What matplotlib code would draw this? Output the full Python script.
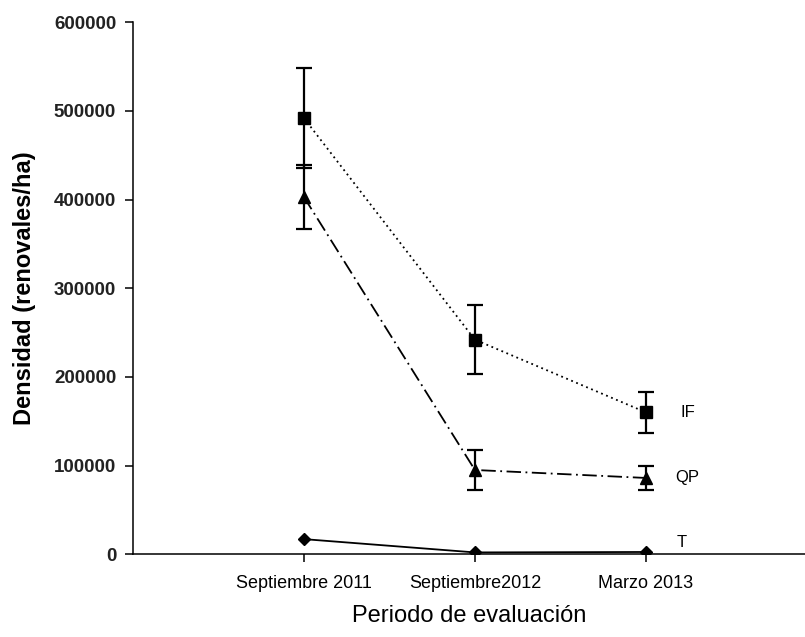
import matplotlib
matplotlib.use("Agg")
import matplotlib.pyplot as plt

periods = ["Septiembre 2011", "Septiembre2012", "Marzo 2013"]
xpos = [1, 2, 3]

if_mean = [492000, 242000, 160000]
if_err = [56000, 39000, 23000]

qp_mean = [403000, 95000, 86000]
qp_err = [36000, 23000, 14000]

t_mean = [17000, 2000, 2500]

series_names = ["IF", "QP", "T"]

plt.rcParams['font.family'] = ['Liberation Sans', 'DejaVu Sans']

fig = plt.figure(figsize=(8.05, 6.37), dpi=100)
ax = fig.add_axes([0.165, 0.130, 0.835, 0.835])

# IF - dotted, squares
ax.errorbar(xpos, if_mean, yerr=if_err, color='black', marker='s', markersize=9,
            linestyle=(0, (1, 2)), linewidth=1.3, elinewidth=1.6, capsize=6,
            capthick=1.6, zorder=3)
# QP - dash dot, triangles
ax.errorbar(xpos, qp_mean, yerr=qp_err, color='black', marker='^', markersize=8,
            linestyle=(0, (8, 2.5, 1, 2.5)), linewidth=1.3, elinewidth=1.6,
            capsize=6, capthick=1.6, zorder=3)
# T - solid, diamonds
ax.plot(xpos, t_mean, color='black', marker='D', markersize=6, linewidth=1.3,
        zorder=3)

# series labels at right end
ax.text(3.2, if_mean[2], series_names[0], fontsize=12, va='center', ha='left')
ax.text(3.17, qp_mean[2], series_names[1], fontsize=12, va='center', ha='left')
ax.text(3.18, 13000, series_names[2], fontsize=12, va='center', ha='left')

ax.set_xlim(0, 3.93)
ax.set_ylim(0, 600000)
ax.set_xticks(xpos)
ax.set_xticklabels(periods, fontsize=13)
ax.set_yticks(range(0, 600001, 100000))
ax.set_yticklabels([str(v) for v in range(0, 600001, 100000)], fontsize=13.5,
                   fontweight='bold', color='#222222')

ax.spines['top'].set_visible(False)
ax.spines['right'].set_visible(False)
for s in ['left', 'bottom']:
    ax.spines[s].set_linewidth(1.1)
ax.tick_params(axis='both', direction='out', length=6, width=1.1)
ax.tick_params(axis='x', pad=9)
ax.tick_params(axis='y', pad=6)

ax.set_ylabel("Densidad (renovales/ha)", fontsize=17, fontweight='bold',
              labelpad=13)
ax.set_xlabel("Periodo de evaluación", fontsize=17, labelpad=9)

fig.savefig("out.png", dpi=100)
